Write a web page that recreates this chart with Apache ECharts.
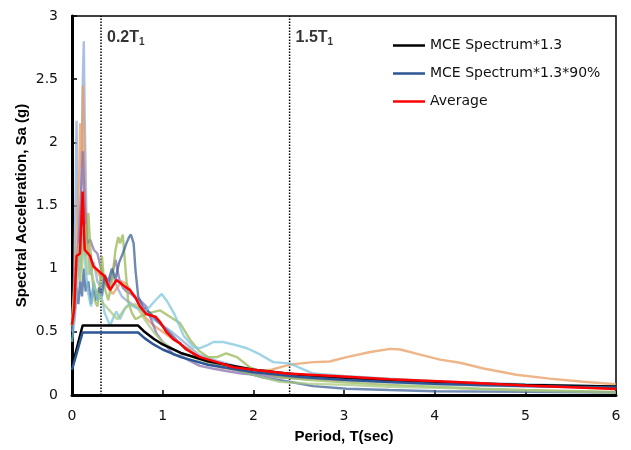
<!DOCTYPE html>
<html><head><meta charset="utf-8">
<script src="https://cdn.jsdelivr.net/npm/echarts@6/dist/echarts.min.js"></script>
<style>html,body{margin:0;padding:0;background:#fff}#c{width:631px;height:450px}</style>
</head><body><div id="c"></div>
<script>
// ---- Data ----
const xTicks = [0, 1, 2, 3, 4, 5, 6];
const yTicks = [0, 0.5, 1, 1.5, 2, 2.5, 3];
const markPeriods = [0.32, 2.4];
const markLabels = ['0.2T', '1.5T'];

const mceT  = [0, 0.117, 0.73, 0.8, 0.9, 1.0, 1.2, 1.5, 2.0, 2.5, 3.0, 3.5, 4.0, 4.5, 5.0, 5.5, 6.0];
const mceSa = [0.22, 0.55, 0.55, 0.50, 0.445, 0.40, 0.333, 0.267, 0.20, 0.16, 0.133, 0.114, 0.10, 0.089, 0.08, 0.073, 0.067];
const mce90T  = [0, 0.117, 0.73, 0.8, 0.9, 1.0, 1.2, 1.5, 2.0, 2.5, 3.0, 3.5, 4.0, 4.5, 5.0, 5.5, 6.0];
const mce90Sa = [0.20, 0.495, 0.495, 0.45, 0.40, 0.36, 0.30, 0.24, 0.18, 0.144, 0.12, 0.103, 0.09, 0.08, 0.072, 0.065, 0.06];

const avgT  = [0, 0.025, 0.05, 0.088, 0.117, 0.14, 0.2, 0.235, 0.31, 0.36, 0.42, 0.49, 0.58, 0.64, 0.7, 0.75, 0.82, 0.92, 0.97, 1.04, 1.12, 1.19, 1.26, 1.41, 1.6, 1.78, 2.0, 2.37, 3.03, 3.5, 4.17, 5.0, 6.0];
const avgSa = [0.555, 0.69, 1.1, 1.12, 1.61, 1.15, 1.1, 1.02, 0.97, 0.94, 0.83, 0.91, 0.86, 0.83, 0.77, 0.70, 0.64, 0.62, 0.58, 0.50, 0.44, 0.41, 0.36, 0.30, 0.26, 0.22, 0.20, 0.17, 0.145, 0.125, 0.105, 0.075, 0.047];

const rec1T  = [0, 0.02, 0.04, 0.05, 0.06, 0.08, 0.1, 0.12, 0.13, 0.14, 0.16, 0.18, 0.2, 0.24, 0.28, 0.32, 0.36, 0.4, 0.45, 0.5, 0.55, 0.6, 0.7, 0.8, 0.9, 1.0, 1.1, 1.2, 1.3, 1.4, 1.6, 1.8, 2.0, 2.2, 2.4, 2.7, 3.0, 3.5, 4.0, 4.5, 5.0, 5.5, 6.0];
const rec1Sa = [0.55, 0.8, 1.6, 2.17, 1.5, 1.05, 1.6, 2.5, 2.8, 2.2, 1.35, 1.15, 0.95, 1.05, 0.9, 0.85, 0.95, 0.85, 0.95, 0.85, 0.78, 0.75, 0.7, 0.66, 0.6, 0.55, 0.5, 0.44, 0.38, 0.32, 0.27, 0.23, 0.2, 0.17, 0.15, 0.13, 0.115, 0.1, 0.085, 0.075, 0.068, 0.062, 0.058];
const rec2T  = [0, 0.03, 0.06, 0.08, 0.09, 0.1, 0.11, 0.12, 0.125, 0.14, 0.16, 0.2, 0.25, 0.3, 0.35, 0.4, 0.45, 0.5, 0.55, 0.6, 0.65, 0.7, 0.8, 0.9, 1.0, 1.1, 1.2, 1.3, 1.4, 1.5, 1.63, 1.8, 2.0, 2.2, 2.4, 2.66, 2.84, 3.03, 3.29, 3.51, 3.62, 3.84, 4.06, 4.28, 4.54, 4.9, 5.27, 5.64, 6.0];
const rec2Sa = [0.6, 0.9, 1.4, 1.75, 2.15, 1.8, 1.9, 2.45, 2.3, 1.6, 1.25, 1.05, 1.0, 0.95, 0.9, 0.85, 0.8, 0.85, 0.9, 0.88, 0.82, 0.78, 0.62, 0.55, 0.5, 0.45, 0.4, 0.36, 0.3, 0.26, 0.22, 0.2, 0.19, 0.2, 0.24, 0.26, 0.265, 0.30, 0.34, 0.365, 0.36, 0.32, 0.28, 0.255, 0.21, 0.16, 0.13, 0.105, 0.085];
const rec3T  = [0, 0.04, 0.08, 0.1, 0.12, 0.14, 0.17, 0.2, 0.24, 0.28, 0.32, 0.36, 0.4, 0.44, 0.48, 0.52, 0.56, 0.6, 0.65, 0.7, 0.75, 0.82, 0.93, 1.0, 1.12, 1.2, 1.3, 1.41, 1.55, 1.7, 1.87, 2.04, 2.29, 2.6, 3.0, 3.5, 4.28, 5.0, 6.0];
const rec3Sa = [0.5, 0.9, 1.3, 1.6, 1.93, 1.5, 1.2, 1.23, 1.15, 1.12, 1.0, 0.9, 0.85, 0.95, 1.07, 0.92, 0.85, 0.82, 0.8, 0.77, 0.75, 0.7, 0.49, 0.42, 0.32, 0.31, 0.27, 0.23, 0.21, 0.19, 0.17, 0.16, 0.14, 0.13, 0.12, 0.11, 0.1, 0.08, 0.06];
const rec4T  = [0, 0.03, 0.06, 0.09, 0.12, 0.15, 0.18, 0.2, 0.22, 0.25, 0.28, 0.3, 0.33, 0.36, 0.4, 0.44, 0.48, 0.51, 0.53, 0.56, 0.59, 0.62, 0.66, 0.7, 0.75, 0.86, 0.97, 1.08, 1.19, 1.3, 1.4, 1.5, 1.6, 1.7, 1.82, 1.96, 2.1, 2.3, 2.6, 3.0, 3.5, 4.0, 4.5, 5.0, 6.0];
const rec4Sa = [0.55, 0.8, 1.1, 0.9, 1.3, 1.1, 1.44, 1.2, 0.95, 0.75, 0.7, 0.8, 1.1, 0.85, 0.75, 0.9, 1.15, 1.25, 1.2, 1.27, 1.0, 0.74, 0.65, 0.6, 0.62, 0.65, 0.67, 0.62, 0.57, 0.44, 0.35, 0.3, 0.3, 0.33, 0.3, 0.22, 0.18, 0.14, 0.12, 0.1, 0.08, 0.065, 0.05, 0.04, 0.025];
const rec5T  = [0, 0.03, 0.05, 0.07, 0.09, 0.11, 0.13, 0.15, 0.18, 0.21, 0.24, 0.27, 0.3, 0.33, 0.36, 0.4, 0.44, 0.48, 0.52, 0.56, 0.6, 0.63, 0.65, 0.68, 0.7, 0.73, 0.78, 0.86, 0.95, 1.08, 1.2, 1.35, 1.5, 1.7, 1.9, 2.1, 2.4, 2.66, 3.03, 3.5, 4.0, 5.0, 6.0];
const rec5Sa = [0.5, 0.65, 0.85, 0.72, 0.9, 0.78, 1.0, 0.82, 0.9, 0.72, 0.88, 0.75, 0.85, 0.78, 0.95, 0.9, 1.0, 0.92, 1.05, 1.12, 1.2, 1.25, 1.27, 1.2, 0.99, 0.78, 0.7, 0.65, 0.58, 0.49, 0.4, 0.32, 0.27, 0.22, 0.18, 0.14, 0.105, 0.07, 0.05, 0.04, 0.03, 0.025, 0.02];
const rec6T  = [0, 0.03, 0.06, 0.09, 0.12, 0.15, 0.18, 0.21, 0.24, 0.28, 0.32, 0.36, 0.42, 0.46, 0.49, 0.53, 0.58, 0.63, 0.68, 0.74, 0.8, 0.86, 0.92, 0.99, 1.05, 1.13, 1.23, 1.34, 1.41, 1.48, 1.56, 1.66, 1.78, 1.93, 2.05, 2.22, 2.4, 2.66, 3.0, 3.5, 4.0, 4.5, 5.0, 5.5, 6.0];
const rec6Sa = [0.42, 0.6, 0.9, 1.1, 1.3, 1.0, 0.8, 0.7, 0.9, 0.75, 0.8, 0.65, 0.55, 0.62, 0.66, 0.6, 0.68, 0.72, 0.7, 0.68, 0.66, 0.7, 0.75, 0.8, 0.74, 0.64, 0.47, 0.38, 0.37, 0.39, 0.42, 0.42, 0.40, 0.37, 0.33, 0.26, 0.25, 0.17, 0.15, 0.13, 0.11, 0.095, 0.085, 0.075, 0.065];
const rec7T  = [0, 0.04, 0.08, 0.11, 0.14, 0.17, 0.2, 0.25, 0.3, 0.35, 0.4, 0.5, 0.6, 0.7, 0.8, 0.9, 1.0, 1.1, 1.2, 1.3, 1.4, 1.6, 1.8, 2.0, 2.29, 2.6, 3.03, 3.5, 4.28, 5.0, 6.0];
const rec7Sa = [0.55, 0.9, 1.2, 1.0, 1.35, 0.95, 1.05, 0.85, 0.78, 0.72, 0.68, 0.6, 0.7, 0.72, 0.6, 0.5, 0.42, 0.37, 0.33, 0.31, 0.28, 0.24, 0.2, 0.16, 0.105, 0.09, 0.08, 0.065, 0.053, 0.035, 0.02];

// ---- Build ----
const zip = (a, b) => a.map((v, i) => [v, b[i]]);
const records = [
  [rec1T, rec1Sa, '#8eaad8'],
  [rec2T, rec2Sa, '#e89c62'],
  [rec3T, rec3Sa, '#8a6fb0'],
  [rec4T, rec4Sa, '#98b855'],
  [rec5T, rec5Sa, '#3f6299'],
  [rec6T, rec6Sa, '#7ec6de'],
  [rec7T, rec7Sa, '#a8c883']
];
const series = [];
records.forEach((r, i) => {
  series.push({
    name: 'rec' + (i + 1), type: 'line', data: zip(r[0], r[1]), symbol: 'none', z: 2,
    lineStyle: { color: r[2], width: 2.4, opacity: 0.75 }
  });
});
markPeriods.forEach((t, i) => {
  series.push({
    name: 'mark' + i, type: 'line', data: [[t, 0], [t, 3]], symbol: 'none', z: 1, silent: true,
    lineStyle: { color: '#000', width: 1.5, type: [1.5, 1.5] }
  });
  series.push({
    name: 'lab' + i, type: 'scatter', data: [[t, 2.83]], symbolSize: 0, silent: true,
    label: {
      show: true, position: 'right', distance: 6,
      formatter: '{a|' + markLabels[i] + '}{s|1}',
      rich: {
        a: { fontFamily: 'Liberation Sans', fontWeight: 'bold', fontSize: 16, color: '#000', lineHeight: 20 },
        s: { fontFamily: 'Liberation Sans', fontWeight: 'bold', fontSize: 10, color: '#000', lineHeight: 20, verticalAlign: 'bottom', padding: [8, 0, 0, 0] }
      }
    }
  });
});
series.push({ name: 'MCE Spectrum*1.3', type: 'line', data: zip(mceT, mceSa), symbol: 'none', z: 4,
  lineStyle: { color: '#000', width: 2.5 }, itemStyle: { color: '#000' } });
series.push({ name: 'MCE Spectrum*1.3*90%', type: 'line', data: zip(mce90T, mce90Sa), symbol: 'none', z: 4,
  lineStyle: { color: '#2d5694', width: 2.5 }, itemStyle: { color: '#2d5694' } });
series.push({ name: 'Average', type: 'line', data: zip(avgT, avgSa), symbol: 'none', z: 5,
  lineStyle: { color: '#ff0000', width: 2.5 }, itemStyle: { color: '#ff0000' } });

const chart = echarts.init(document.getElementById('c'), null, { renderer: 'canvas' });
chart.setOption({
  animation: false,
  backgroundColor: '#fff',
  grid: { left: 72, right: 15, top: 16, bottom: 55, show: true, borderColor: '#000', borderWidth: 1.5 },
  legend: {
    data: ['MCE Spectrum*1.3', 'MCE Spectrum*1.3*90%', 'Average'],
    icon: 'rect',
    orient: 'vertical', left: 388, top: 32, itemWidth: 32, itemHeight: 2.5, itemGap: 11,
    textStyle: { fontFamily: 'DejaVu Sans', fontSize: 14, color: '#111', lineHeight: 17 }
  },
  xAxis: {
    type: 'value', min: xTicks[0], max: xTicks[xTicks.length - 1], interval: 1,
    name: 'Period, T(sec)', nameLocation: 'middle', nameGap: 34,
    nameTextStyle: { fontFamily: 'Liberation Sans', fontWeight: 'bold', fontSize: 15, color: '#000' },
    axisLine: { lineStyle: { color: '#000', width: 3 } },
    axisTick: { inside: true, length: 5, lineStyle: { color: '#000', width: 1.5 } },
    axisLabel: { fontFamily: 'DejaVu Sans', fontSize: 14, color: '#111', margin: 14 },
    splitLine: { show: false }
  },
  yAxis: {
    type: 'value', min: yTicks[0], max: yTicks[yTicks.length - 1], interval: 0.5,
    name: 'Spectral Acceleration, Sa (g)', nameLocation: 'middle', nameGap: 43, nameMoveOverlap: false,
    nameTextStyle: { fontFamily: 'Liberation Sans', fontWeight: 'bold', fontSize: 15, color: '#000' },
    axisLine: { lineStyle: { color: '#000', width: 3 } },
    axisTick: { inside: true, length: 5, lineStyle: { color: '#000', width: 1.5 } },
    axisLabel: { fontFamily: 'DejaVu Sans', fontSize: 14, color: '#111', margin: 14 },
    splitLine: { show: false }
  },
  series: series
});
</script></body></html>
